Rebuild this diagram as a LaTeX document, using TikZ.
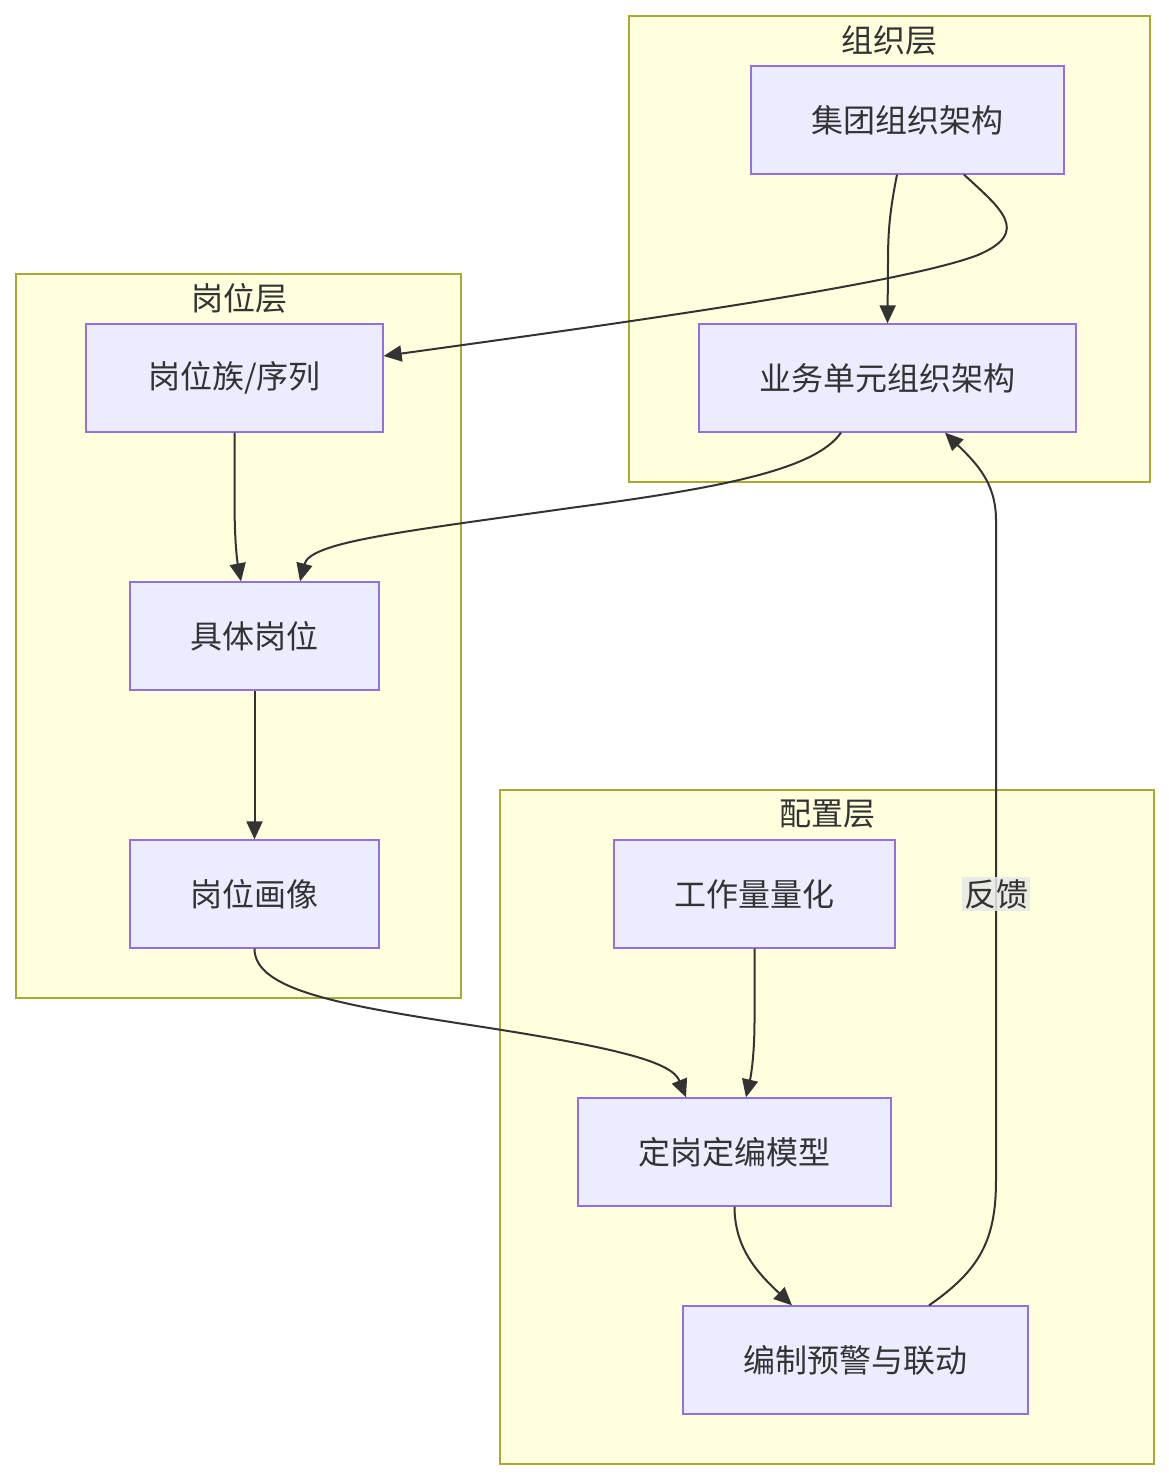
\documentclass[tikz,border=0pt]{standalone}
\usepackage{fontspec}
\setmainfont{Noto Sans CJK SC}
\usetikzlibrary{arrows.meta,calc}
\definecolor{clfill}{HTML}{FFFFDE}
\definecolor{clline}{HTML}{AAAA33}
\definecolor{ndfill}{HTML}{ECECFF}
\definecolor{ndline}{HTML}{9370DB}
\definecolor{ink}{HTML}{333333}
\definecolor{lblbg}{HTML}{E8E8E8}
\tikzset{
  cluster/.style={draw=clline, fill=clfill, line width=1.3pt},
  ctitle/.style={text=ink, font=\fontsize{32}{38}\selectfont, inner sep=0pt},
  box/.style={draw=ndline, fill=ndfill, line width=1.3pt, minimum height=108pt, inner sep=0pt, text=ink, font=\fontsize{32}{38}\selectfont},
  conn/.style={draw=ink, line width=2pt, -{Triangle[length=18pt,width=16pt]}},
  elabel/.style={fill=lblbg, fill opacity=0.85, text opacity=1, text=ink, inner sep=2pt, font=\fontsize{32}{38}\selectfont}
}
\begin{document}
\begin{tikzpicture}[x=1pt,y=-1pt]
\useasboundingbox (0,0) rectangle (1169,1480);
% clusters
\draw[cluster] (629,16) rectangle (1150,482);
\node[ctitle] (t1) at (889,40) {组织层};
\draw[cluster] (16,274) rectangle (461,998);
\node[ctitle] (t2) at (239,298) {岗位层};
\draw[cluster] (500,790) rectangle (1154,1464);
\node[ctitle] (t3) at (827,814) {配置层};
% nodes
\node[box, minimum width=313pt] (g) at (907.5,120) {集团组织架构};
\node[box, minimum width=377pt] (b) at (887.5,378) {业务单元组织架构};
\node[box, minimum width=297pt] (f) at (234.5,378) {岗位族/序列};
\node[box, minimum width=249pt] (j) at (254.5,636) {具体岗位};
\node[box, minimum width=249pt] (p) at (254.5,894) {岗位画像};
\node[box, minimum width=281pt] (w) at (754.5,894) {工作量量化};
\node[box, minimum width=313pt] (d) at (734.5,1152) {定岗定编模型};
\node[box, minimum width=345pt] (e) at (855.5,1360) {编制预警与联动};
% edges
\draw[conn] ([xshift=-10.5pt]g.south) .. controls (890,210) and (888,230) .. (888,262) -- (b.north);
\draw[conn] ([xshift=56.5pt]g.south) .. controls (1000,208) and (1032,232) .. (978,255) .. controls (900,285) and (600,326) .. ([yshift=22pt]f.east);
\draw[conn] ([xshift=-46.5pt]b.south) .. controls (815,470) and (720,488) .. (570,508) .. controls (400,532) and (310,542) .. ([xshift=45.5pt]j.north);
\draw[conn] (f.south) -- (234.5,500) .. controls (234.5,540) and (237,560) .. ([xshift=-13.5pt]j.north);
\draw[conn] (j.south) -- (p.north);
\draw[conn] (p.south) .. controls (254.5,990) and (340,1005) .. (470,1025) .. controls (620,1048) and (672,1062) .. ([xshift=-48.5pt]d.north);
\draw[conn] (w.south) -- (754.5,1020) .. controls (754.5,1060) and (750,1080) .. ([xshift=11.5pt]d.north);
\draw[conn] (d.south) .. controls (734.5,1250) and (760,1275) .. ([xshift=-63.5pt]e.north);
\draw[conn] ([xshift=73.5pt]e.north) .. controls (980,1270) and (996,1240) .. (996,1180) -- (996,520) .. controls (996,482) and (975,462) .. ([xshift=57.5pt]b.south);
\node[elabel] (fb) at (996,894) {反馈};
\end{tikzpicture}
\end{document}
